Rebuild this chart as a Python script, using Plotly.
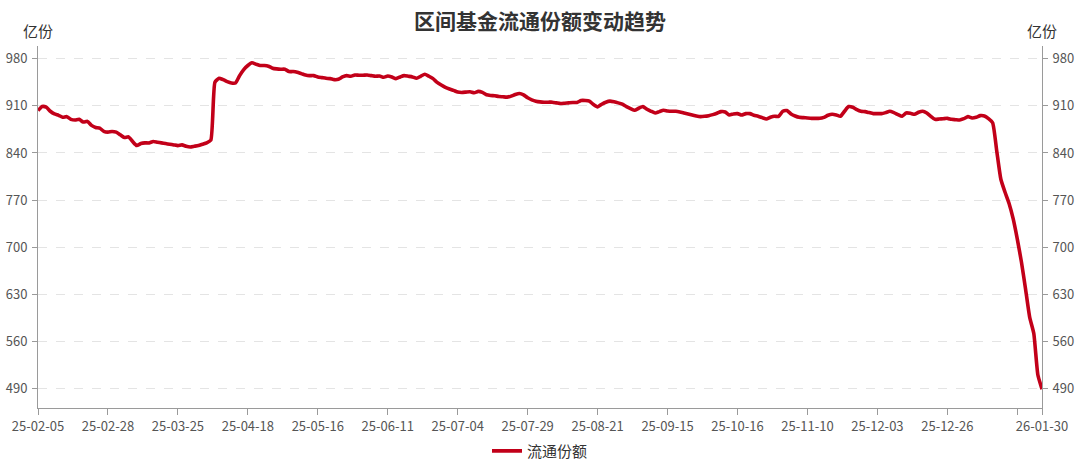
import plotly.graph_objects as go

# 区间基金流通份额 (亿份), one value per trading day, 25-02-05 .. 26-01-30
shares = [
    903, 909, 908, 902, 898, 896, 893, 894, 890, 889,
    890, 886, 887, 881, 878, 877, 872, 871, 872, 871,
    867, 863, 864, 857, 851, 854, 855, 855, 857, 856,
    855, 854, 853, 852, 851, 852, 850, 849, 850, 851,
    853, 855, 859, 945, 951, 949, 946, 944, 944, 955,
    964, 970, 974, 972, 970, 970, 969, 966, 965,
    964.5, 964.5, 961, 961, 960, 958, 956, 955, 955, 953,
    952, 951, 950.5, 949, 949.5, 953, 955, 954, 956, 955.5,
    955.5, 956, 955, 954, 954.5, 952.5, 954.5, 953, 950.5, 953,
    955, 954, 953, 951, 954, 957, 954, 950.5, 945, 941,
    937.5, 935, 933, 930.5, 930, 930.5, 931, 929.5, 931.5, 930,
    926.5, 925.5, 925, 924, 923.5, 923, 924.5, 927, 928.5,
    926.5, 922, 919, 917, 916, 915.5, 915.5, 915.5, 914.5, 913.5,
    914, 914.5, 915, 915, 918, 918, 917, 912, 908.5, 912.5,
    915.5, 917, 916, 914.5, 912.5, 909, 906, 903.5, 906.5, 909,
    905, 902, 899.5, 901.5, 903.5, 902.5, 902, 902, 901, 899.5,
    898, 896.5, 895, 894, 894.5, 895.5, 897, 899, 901.5, 901,
    896.5, 898, 898.5, 896.5, 898.5, 898.5, 896, 894.5,
    892.5, 890.5, 893, 894.5, 894.5, 902, 903, 898, 895, 893,
    892.5, 892, 891.5, 891.5, 891.5, 893, 896, 897.5, 896.5, 894.5,
    902, 909, 908, 904.5, 902, 901.5, 900, 898.5, 898.5, 898.5,
    900, 902, 900, 897, 894.5, 899.5, 899, 897.5, 900.5, 902,
    899.5, 894.5, 890, 890.5, 891, 891.5, 890, 889.5, 889, 891,
    894, 892, 893, 895.5,
    895, 891, 885, 843, 801, 782, 765, 742, 712, 678,
    638, 596, 572, 510, 489,
]

# x tick labels, every 17th trading day; the last one is the final day
tick_labels = [
    "25-02-05", "25-02-28", "25-03-25", "25-04-18", "25-05-16",
    "25-06-11", "25-07-04", "25-07-29", "25-08-21", "25-09-15",
    "25-10-16", "25-11-10", "25-12-03", "25-12-26", "", "26-01-30",
]
y_ticks = [490, 560, 630, 700, 770, 840, 910, 980]

RED = "#c20019"
FONT = "Noto Sans CJK SC"

x = list(range(len(shares)))
tick_pos = list(range(0, len(shares), 17)) + [len(shares) - 1]

fig = go.Figure()
fig.add_trace(go.Scatter(
    x=x, y=shares, name="流通份额", mode="lines",
    line=dict(color=RED, width=3.6, shape="spline", smoothing=0.5),
))
# same series on the right axis so it gets drawn too
fig.add_trace(go.Scatter(
    x=x, y=shares, yaxis="y2", mode="lines", showlegend=False,
    line=dict(color=RED, width=0), hoverinfo="skip", opacity=0,
))

yrange = [461, 999]
axis_common = dict(
    range=yrange, tickvals=y_ticks, showline=True, linecolor="#9a9a9a",
    linewidth=1, ticks="outside", ticklen=5, tickcolor="#9a9a9a",
    tickfont=dict(family=FONT, size=13, color="#555"), zeroline=False,
    automargin=False, ticklabelstandoff=2,
)

fig.update_layout(
    width=1080, height=465,
    # fixed margins: nothing (legend included) may push the plot area around
    margin=dict(l=38, r=38, t=46, b=57, autoexpand=False),
    paper_bgcolor="white", plot_bgcolor="white",
    title=dict(text="<b>区间基金流通份额变动趋势</b>", x=0.5, xanchor="center",
               y=0.953, yanchor="middle",
               font=dict(family=FONT, size=21, color="#333")),
    xaxis=dict(
        range=[0, len(shares) - 1], tickvals=tick_pos, ticktext=tick_labels,
        showline=True, linecolor="#9a9a9a", ticks="outside", ticklen=6,
        tickcolor="#9a9a9a", showgrid=False, zeroline=False, automargin=False,
        tickfont=dict(family=FONT, size=13, color="#555"),
    ),
    yaxis=dict(**axis_common, side="left", showgrid=True,
               gridcolor="#e4e4e4", griddash="dash", gridwidth=1),
    yaxis2=dict(**axis_common, side="right", overlaying="y", showgrid=False),
    legend=dict(orientation="h", x=0.5, xanchor="center", y=-0.119,
                yanchor="middle", borderwidth=0,
                font=dict(family=FONT, size=15, color="#333")),
    showlegend=True,
)

for xp in (0, 1):
    fig.add_annotation(text="亿份", xref="paper", yref="paper", x=xp, y=1.044,
                       xanchor="center", yanchor="middle", showarrow=False,
                       font=dict(family=FONT, size=15, color="#333"))

# the page body has an 8px default margin; drop it so the figure fills the window
fig.write_html("out.html", config={"displayModeBar": False},
               post_script="document.body.style.margin='0';"
                           "document.body.style.overflow='hidden';")
